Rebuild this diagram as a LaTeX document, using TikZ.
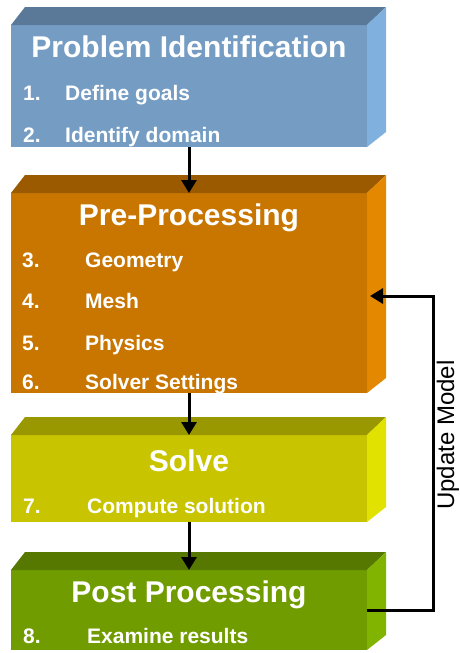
\documentclass[tikz,border=0pt]{standalone}
\usepackage{fontspec}
\setmainfont{Liberation Sans}
\usetikzlibrary{positioning,calc,arrows.meta}
\definecolor{idfront}{RGB}{117,157,196}
\definecolor{idtop}{RGB}{90,121,152}
\definecolor{idside}{RGB}{128,176,222}
\definecolor{prefront}{RGB}{200,118,0}
\definecolor{pretop}{RGB}{155,90,0}
\definecolor{preside}{RGB}{228,136,0}
\definecolor{solvefront}{RGB}{200,196,0}
\definecolor{solvetop}{RGB}{154,152,0}
\definecolor{solveside}{RGB}{226,226,0}
\definecolor{postfront}{RGB}{112,156,0}
\definecolor{posttop}{RGB}{86,120,0}
\definecolor{postside}{RGB}{128,180,0}

\begin{document}
\begin{tikzpicture}[x=1pt, y=-1pt,
	stage/.style={rectangle, minimum width=356pt, inner sep=0pt, outer sep=0pt},
	stagetitle/.style={text=white, font=\fontsize{30}{30}\selectfont\bfseries, anchor=base},
	stageitem/.style={text=white, font=\fontsize{21}{21}\selectfont\bfseries, anchor=base west, inner sep=0pt},
	flow/.style={line width=3pt, -{Triangle[length=13pt,width=15pt]}}]

	\useasboundingbox (0,0) rectangle (459,653);

	% front faces of the four blocks
	\node[stage, fill=idfront, minimum height=122pt] (idbox) at (189,86) {};
	\node[stage, fill=prefront, minimum height=200pt] (prebox) at (189,293) {};
	\node[stage, fill=solvefront, minimum height=87pt] (solvebox) at (189,478.5) {};
	\node[stage, fill=postfront, minimum height=80pt] (postbox) at (189,610) {};

	% top and side faces
	\foreach \stg/\tc/\sc in {idbox/idtop/idside, prebox/pretop/preside, solvebox/solvetop/solveside, postbox/posttop/postside} {
		\fill[\tc] (\stg.north west) -- ++(14,-18) -- ($(\stg.north east)+(19,-18)$) -- (\stg.north east) -- cycle;
		\fill[\sc] (\stg.north east) -- ++(19,-18) -- ($(\stg.south east)+(19,-15)$) -- (\stg.south east) -- cycle;
	}

	% titles
	\node[stagetitle] (idtitle) at (189,57) {Problem Identification};
	\node[stagetitle] (pretitle) at (189,225) {Pre-Processing};
	\node[stagetitle] (solvetitle) at (189,471) {Solve};
	\node[stagetitle] (posttitle) at (189,602) {Post Processing};

	% numbered steps
	\foreach \n/\t/\y in {1/Define goals/100, 2/Identify domain/142} {
		\node[stageitem] (idnum\n) at (23,\y) {\n.};
		\node[stageitem] (iditem\n) at (65,\y) {\t};
	}
	\foreach \n/\t/\y in {3/Geometry/267, 4/Mesh/308, 5/Physics/350, 6/Solver Settings/389} {
		\node[stageitem] (prenum\n) at (22,\y) {\n.};
		\node[stageitem] (preitem\n) at (85,\y) {\t};
	}
	\node[stageitem] (solvenum7) at (23,513) {7.};
	\node[stageitem] (solveitem7) at (87,513) {Compute solution};
	\node[stageitem] (postnum8) at (23,643) {8.};
	\node[stageitem] (postitem8) at (87,643) {Examine results};

	% flow between the blocks
	\draw[flow] (idbox.south) -- (prebox.north);
	\draw[flow] (prebox.south) -- (solvebox.north);
	\draw[flow] (solvebox.south) -- (postbox.north);

	% feedback loop
	\coordinate (loopcorner) at (433,296);
	\draw[flow] (postbox.east) -| (loopcorner) -- ([xshift=3pt]prebox.east |- loopcorner);
	\node[rotate=90, font=\fontsize{24}{24}\selectfont] (updlabel) at (448,435) {Update Model};
\end{tikzpicture}
\end{document}
